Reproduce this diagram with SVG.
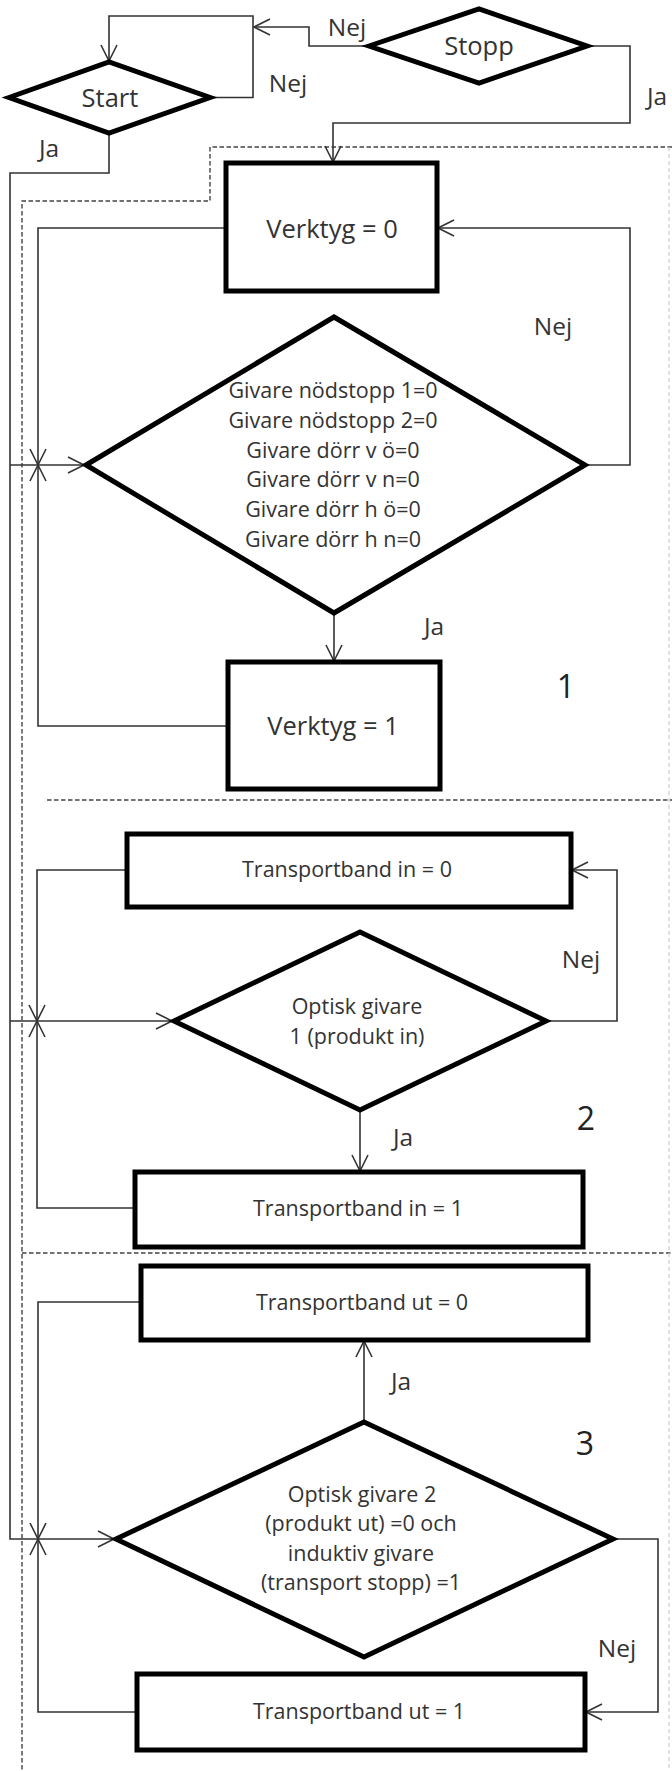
<svg xmlns="http://www.w3.org/2000/svg" width="672" height="1771" viewBox="0 0 672 1771">
<defs>
<style>
.node{fill:#fff;stroke:#000;stroke-width:5;stroke-linejoin:miter}
.t{font-family:"Open Sans","Liberation Sans",sans-serif;fill:#333;text-anchor:middle}
.big{font-size:25.5px}
.sm{font-size:21.5px}
.lbl{font-family:"Open Sans","Liberation Sans",sans-serif;fill:#333;font-size:24.5px;text-anchor:middle}
.num{font-family:"Open Sans","Liberation Sans",sans-serif;fill:#222;font-size:32px;text-anchor:middle}
.c{fill:none;stroke:#333;stroke-width:1.6}
.ca{fill:none;stroke:#333;stroke-width:1.6;marker-end:url(#arr)}
.dash{fill:none;stroke:#444;stroke-width:1.4;stroke-dasharray:4.5 2.5}
.faint{fill:none;stroke:#ccc;stroke-width:1.2;stroke-dasharray:4 3}
</style>
<marker id="arr" markerUnits="userSpaceOnUse" viewBox="-20 -10 22 20" refX="0" refY="0" markerWidth="22" markerHeight="20" orient="auto" overflow="visible">
<path d="M-16,-8 L0,0 L-16,8" fill="none" stroke="#333" stroke-width="1.6"/>
</marker>
</defs>
<rect width="672" height="1771" fill="#fff"/>

<g id="regions">
<path class="dash" d="M672,147 H210 V201 H22 V1771"/>
<path class="dash" d="M47,800 H672"/>
<path class="dash" d="M22,1253 H672"/>
<path class="faint" d="M669,147 V1771"/>
</g>

<g id="connectors">
<path class="ca" d="M210,97.5 H253 V16 H109 V61"/>
<path class="ca" d="M369,46 H309 V27 H254"/>
<path class="ca" d="M587,46 H630 V123 H333 V162"/>
<path class="ca" d="M109,133 V173 H10 V1539 H114"/>
<path class="ca" d="M10,465 H84"/>
<path class="ca" d="M10,1021 H172"/>
<path class="ca" d="M226,228 H38 V465"/>
<path class="ca" d="M228,726 H38 V465"/>
<path class="ca" d="M585,465 H630 V228 H438"/>
<path class="ca" d="M334,613 V661"/>
<path class="ca" d="M127,870 H37 V1021"/>
<path class="ca" d="M135,1208 H37 V1021"/>
<path class="ca" d="M546,1021 H617 V870 H572"/>
<path class="ca" d="M360,1110 V1171"/>
<path class="ca" d="M141,1302 H38 V1539"/>
<path class="ca" d="M137,1712 H38 V1539"/>
<path class="ca" d="M364,1422 V1341"/>
<path class="ca" d="M613,1539 H658 V1712 H586"/>
</g>

<g id="labels">
<text class="lbl" x="347" y="36">Nej</text>
<text class="lbl" x="288" y="92">Nej</text>
<text class="lbl" x="49" y="157">Ja</text>
<text class="lbl" x="657" y="105">Ja</text>
<text class="lbl" x="553" y="335">Nej</text>
<text class="lbl" x="434" y="635">Ja</text>
<text class="num" x="566" y="698">1</text>
<text class="lbl" x="581" y="968">Nej</text>
<text class="lbl" x="403" y="1146">Ja</text>
<text class="num" x="586" y="1130">2</text>
<text class="lbl" x="401" y="1390">Ja</text>
<text class="num" x="585" y="1455">3</text>
<text class="lbl" x="617" y="1657">Nej</text>
</g>

<g id="stopp">
<polygon class="node" points="369,46 479,9 587,46 479,83"/>
<text class="t big" x="479" y="55">Stopp</text>
</g>
<g id="start">
<polygon class="node" points="9,97.5 109,62 210,97.5 109,133"/>
<text class="t big" x="110" y="107">Start</text>
</g>
<g id="verktyg0">
<rect class="node" x="226" y="163" width="211" height="128"/>
<text class="t big" x="332" y="238">Verktyg = 0</text>
</g>
<g id="givare1">
<polygon class="node" points="86,465 334,317 585,465 334,613"/>
<text class="t sm" x="333" y="398">Givare nödstopp 1=0</text>
<text class="t sm" x="333" y="428">Givare nödstopp 2=0</text>
<text class="t sm" x="333" y="457.5">Givare dörr v ö=0</text>
<text class="t sm" x="333" y="487">Givare dörr v n=0</text>
<text class="t sm" x="333" y="517">Givare dörr h ö=0</text>
<text class="t sm" x="333" y="547">Givare dörr h n=0</text>
</g>
<g id="verktyg1">
<rect class="node" x="228" y="662" width="212" height="127"/>
<text class="t big" x="333" y="735">Verktyg = 1</text>
</g>
<g id="tbin0">
<rect class="node" x="127" y="834" width="444" height="73"/>
<text class="t sm" x="347" y="877">Transportband in = 0</text>
</g>
<g id="optisk1">
<polygon class="node" points="174,1021 360,932 546,1021 360,1110"/>
<text class="t sm" x="357" y="1014">Optisk givare</text>
<text class="t sm" x="357" y="1044">1 (produkt in)</text>
</g>
<g id="tbin1">
<rect class="node" x="135" y="1172" width="448" height="75"/>
<text class="t sm" x="358" y="1216">Transportband in = 1</text>
</g>
<g id="tbut0">
<rect class="node" x="141" y="1266" width="447" height="74"/>
<text class="t sm" x="362" y="1310">Transportband ut = 0</text>
</g>
<g id="optisk2">
<polygon class="node" points="116,1539 364,1422 613,1539 364,1657"/>
<text class="t sm" x="362" y="1502">Optisk givare 2</text>
<text class="t sm" x="361" y="1531">(produkt ut) =0 och</text>
<text class="t sm" x="361" y="1561">induktiv givare</text>
<text class="t sm" x="361" y="1590">(transport stopp) =1</text>
</g>
<g id="tbut1">
<rect class="node" x="137" y="1674" width="448" height="76"/>
<text class="t sm" x="359" y="1719">Transportband ut = 1</text>
</g>
</svg>
